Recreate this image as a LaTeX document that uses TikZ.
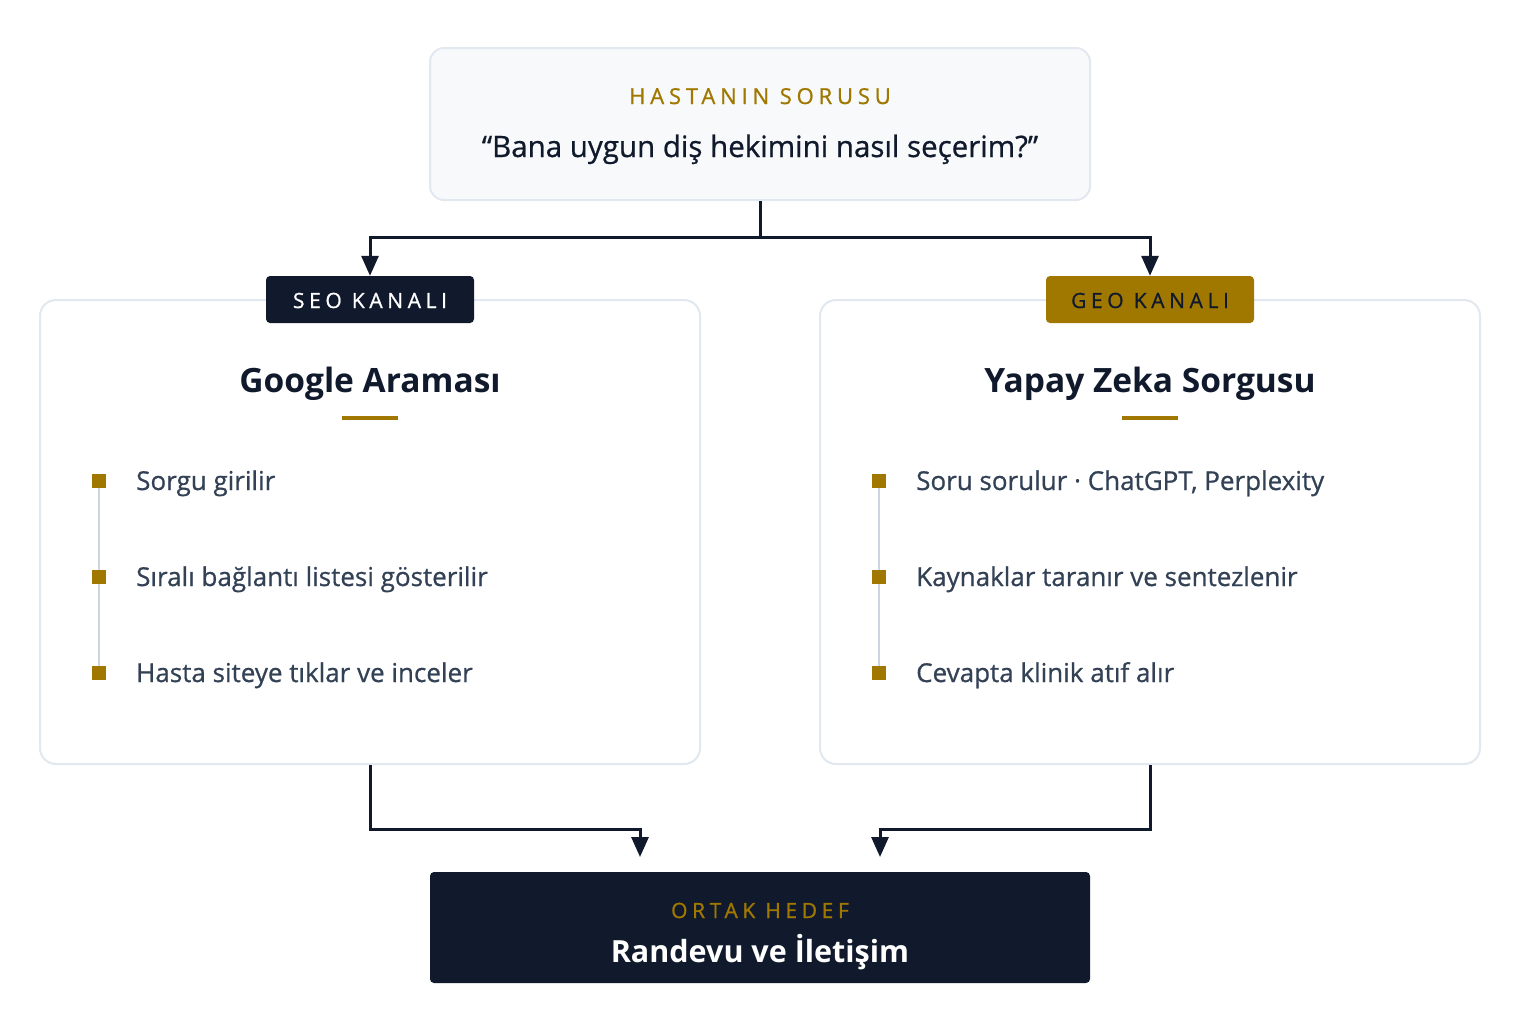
\documentclass[tikz,border=0pt]{standalone}
\usepackage{fontspec}
\setmainfont{Open Sans}
\newfontfamily\med{Open Sans}[FakeBold=0.7]
\newfontfamily\tracked{Open Sans}[LetterSpace=22,FakeBold=0.9]
\usetikzlibrary{arrows.meta}
\definecolor{navy}{HTML}{111A2C}
\definecolor{gold}{HTML}{A07800}
\definecolor{slate}{HTML}{334155}
\definecolor{cardline}{HTML}{E2E8F0}
\definecolor{topfill}{HTML}{F7F9FB}
\definecolor{rail}{HTML}{CBD5E1}
\begin{document}
\begin{tikzpicture}[x=1pt,y=-1pt,
  topbox/.style={draw=cardline,line width=2pt,fill=topfill,rounded corners=14pt,minimum width=660pt,minimum height=152pt,inner sep=0pt},
  card/.style={draw=cardline,line width=2pt,fill=white,rounded corners=16pt,minimum width=660pt,minimum height=464pt,inner sep=0pt},
  tag/.style={rounded corners=4pt,minimum width=208pt,minimum height=47pt,inner sep=0pt},
  goalbox/.style={fill=navy,rounded corners=4pt,minimum width=660pt,minimum height=111pt,inner sep=0pt},
  kicker/.style={anchor=base,inner sep=0pt,font=\tracked\fontsize{21}{25}\selectfont},
  title/.style={anchor=base,inner sep=0pt,text=navy,font=\bfseries\fontsize{33.5}{40}\selectfont},
  item/.style={anchor=base west,inner sep=0pt,text=slate,font=\med\fontsize{26}{31}\selectfont},
  bullet/.style={fill=gold,minimum size=14pt,inner sep=0pt},
  conn/.style={draw=navy,line width=3pt,-{Triangle[length=20pt,width=17pt]}},
  bar/.style={fill=gold,minimum width=56pt,minimum height=4pt,inner sep=0pt}
]
\useasboundingbox[fill=white] (0,0) rectangle (1520,1020);

% question box
\node[topbox] (q) at (760,124) {};
\node[kicker,text=gold,font=\tracked\fontsize{22}{26}\selectfont] (qk) at (760,104) {HASTANIN SORUSU};
\node[anchor=base,inner sep=0pt,text=navy,font=\med\fontsize{29.5}{35}\selectfont] (qt) at (760,157) {“Bana uygun diş hekimini nasıl seçerim?”};

% cards
\node[card] (lc) at (370,532) {};
\node[card] (rc) at (1150,532) {};

% tags
\node[tag,fill=navy] (seo) at (370,299.5) {};
\node[kicker,text=white] (seot) at (370,308) {SEO KANALI};
\node[tag,fill=gold] (geo) at (1150,299.5) {};
\node[kicker,text=navy] (geot) at (1150,308) {GEO KANALI};

% titles
\node[title] (lt) at (370,392) {Google Araması};
\node[bar] (lb) at (370,417.5) {};
\node[title] (rt) at (1150,392) {Yapay Zeka Sorgusu};
\node[bar] (rb) at (1150,417.5) {};

% left list
\coordinate (l1) at (99,481);
\coordinate (l3) at (99,673);
\draw[rail,line width=2pt] (l1) -- (l3);
\node[bullet] (lb1) at (99,481) {};
\node[bullet] (lb2) at (99,577) {};
\node[bullet] (lb3) at (99,673) {};
\node[item] (li1) at (136,490) {Sorgu girilir};
\node[item] (li2) at (136,586) {Sıralı bağlantı listesi gösterilir};
\node[item] (li3) at (136,682) {Hasta siteye tıklar ve inceler};

% right list
\coordinate (r1) at (879,481);
\coordinate (r3) at (879,673);
\draw[rail,line width=2pt] (r1) -- (r3);
\node[bullet] (rb1) at (879,481) {};
\node[bullet] (rb2) at (879,577) {};
\node[bullet] (rb3) at (879,673) {};
\node[item] (ri1) at (916,490) {Soru sorulur · ChatGPT, Perplexity};
\node[item] (ri2) at (916,586) {Kaynaklar taranır ve sentezlenir};
\node[item] (ri3) at (916,682) {Cevapta klinik atıf alır};

% goal box
\node[goalbox] (g) at (760,927.5) {};
\node[kicker,text=gold] (gk) at (760,918) {ORTAK HEDEF};
\node[anchor=base,inner sep=0pt,text=white,font=\bfseries\fontsize{30.5}{37}\selectfont] (gt) at (760,962) {Randevu ve İletişim};

% connectors
\draw[conn] (q.south) -- ++(0,36) -| (seo.north);
\draw[conn] (q.south) -- ++(0,36) -| (geo.north);
\coordinate (inL) at (640,857);
\coordinate (inR) at (880,857);
\draw[conn] (lc.south) -- ++(0,64) -| (inL);
\draw[conn] (rc.south) -- ++(0,64) -| (inR);
\end{tikzpicture}
\end{document}
